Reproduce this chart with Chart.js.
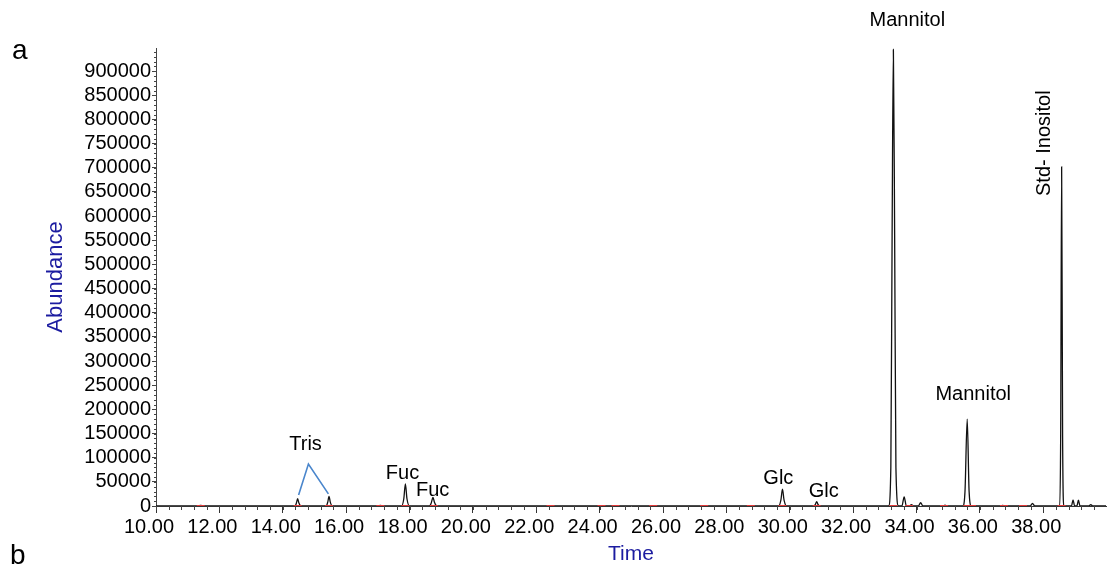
<!DOCTYPE html>
<html>
<head>
<meta charset="utf-8">
<script src="https://cdn.jsdelivr.net/npm/chart.js@4.4.1/dist/chart.umd.min.js"></script>
<style>
  html, body { margin: 0; padding: 0; background: #fff; }
</style>
</head>
<body>
<canvas id="tic" width="1112" height="570"></canvas>
<script>
// total ion chromatogram: retention time (min) vs abundance
const traceTime = [
  10.00, 11.32, 11.41, 11.50,
  14.38, 14.43, 14.47, 14.51, 14.57,
  15.37, 15.42, 15.46, 15.50, 15.56,
  17.02, 17.08, 17.14,
  17.75, 17.82, 17.87, 17.92, 18.00,
  18.63, 18.69, 18.74, 18.79, 18.86,
  29.65, 29.72, 29.77, 29.82, 29.90,
  30.76, 30.81, 30.85, 30.89, 30.95,
  33.12, 33.19, 33.23, 33.27, 33.31, 33.35, 33.43,
  33.54, 33.61, 33.68,
  33.78, 33.84, 33.90,
  34.06, 34.13, 34.20,
  34.84, 34.90, 34.96,
  35.46, 35.53, 35.60, 35.66, 35.73,
  36.67, 36.72, 36.77,
  37.59, 37.66, 37.73,
  38.52, 38.55, 38.58, 38.61, 38.65,
  38.89, 38.94, 38.99,
  39.06, 39.11, 39.16,
  39.44, 39.50, 39.56,
  39.98
];
const traceAbundance = [
  0, 0, 1200, 0,
  0, 6000, 15000, 6000, 0,
  0, 8000, 20000, 8000, 0,
  0, 1500, 0,
  0, 15000, 46000, 15000, 0,
  0, 7000, 18000, 7000, 0,
  0, 12000, 35000, 12000, 0,
  0, 3500, 9000, 3500, 0,
  0, 80000, 560000, 945000, 560000, 80000, 0,
  0, 19000, 0,
  0, 3000, 0,
  0, 7000, 0,
  0, 2000, 0,
  0, 30000, 180000, 30000, 0,
  0, 1500, 0,
  0, 5500, 0,
  0, 150000, 702000, 150000, 0,
  0, 12500, 0,
  0, 12000, 0,
  0, 3000, 0,
  0
];
// integration start/stop markers on the baseline
const integrationMarks = [
  11.41, 14.47, 15.46, 17.08, 17.87, 18.77, 22.45, 24.06, 24.50, 25.69,
  27.30, 28.77, 29.77, 30.85, 33.27, 33.77, 34.87, 35.60, 35.75, 36.76,
  37.36, 38.58
];
const yTickValues = [
  0, 50000, 100000, 150000, 200000, 250000, 300000, 350000, 400000, 450000,
  500000, 550000, 600000, 650000, 700000, 750000, 800000, 850000, 900000
];

const X_MIN = 10, X_MAX = 39.98;
const Y_MAX = 948000;
const FONT = '"Liberation Sans", Arial, Helvetica, sans-serif';
const TITLE_BLUE = '#1c1ca0';

// peak names, anchored in data coordinates
const peakNotes = [
  { text: 'Tris', t: 14.72, v: 127000 },
  { text: 'Fuc', t: 17.78, v: 66500 },
  { text: 'Fuc', t: 18.73, v: 31600 },
  { text: 'Glc', t: 29.64, v: 56000 },
  { text: 'Glc', t: 31.07, v: 31000 },
  { text: 'Mannitol', t: 33.71, v: 1005000 },
  { text: 'Mannitol', t: 35.79, v: 231000 },
  { text: 'Std- Inositol', t: 38.04, v: 751000, vertical: true }
];
const trisBracket = [[14.50, 23000], [14.81, 87000], [15.44, 25000]];

const overlay = {
  id: 'overlay',
  afterDraw(chart) {
    const { ctx, chartArea } = chart;
    const x = chart.scales.x, y = chart.scales.y;
    ctx.save();

    // minor ticks
    ctx.strokeStyle = '#444';
    ctx.lineWidth = 1;
    ctx.beginPath();
    for (let k = 0; X_MIN + k * 0.4 <= X_MAX; k++) {
      const px = Math.round(x.getPixelForValue(X_MIN + k * 0.4)) + 0.5;
      ctx.moveTo(px, chartArea.bottom);
      ctx.lineTo(px, chartArea.bottom + 4);
    }
    for (let k = 0; k * 10000 <= Y_MAX; k++) {
      const py = Math.round(y.getPixelForValue(k * 10000)) + 0.5;
      ctx.moveTo(chartArea.left, py);
      ctx.lineTo(chartArea.left - 2, py);
    }
    ctx.stroke();

    // bracket joining the two Tris peaks
    ctx.strokeStyle = '#4a86cc';
    ctx.lineWidth = 1.6;
    ctx.beginPath();
    trisBracket.forEach(([t, v], i) => {
      const px = x.getPixelForValue(t), py = y.getPixelForValue(v);
      if (i === 0) ctx.moveTo(px, py); else ctx.lineTo(px, py);
    });
    ctx.stroke();

    ctx.fillStyle = '#000';
    ctx.font = '20px ' + FONT;
    ctx.textAlign = 'center';
    ctx.textBaseline = 'middle';
    peakNotes.forEach(n => {
      const px = x.getPixelForValue(n.t), py = y.getPixelForValue(n.v);
      if (n.vertical) {
        ctx.save();
        ctx.translate(px, py);
        ctx.rotate(-Math.PI / 2);
        ctx.fillText(n.text, 0, 0);
        ctx.restore();
      } else {
        ctx.fillText(n.text, px, py);
      }
    });

    // panel letters
    ctx.font = '28px ' + FONT;
    ctx.textAlign = 'left';
    ctx.fillText('a', 12, 51);
    ctx.fillText('b', 10, 556);
    ctx.restore();
  }
};

new Chart(document.getElementById('tic'), {
  type: 'line',
  data: {
    datasets: [
      {
        label: 'TIC',
        data: traceTime.map((t, i) => ({ x: t, y: traceAbundance[i] })),
        borderColor: '#111',
        borderWidth: 1.3,
        pointRadius: 0,
        cubicInterpolationMode: 'monotone',
        order: 2
      },
      {
        label: 'marks',
        type: 'scatter',
        data: integrationMarks.map(t => ({ x: t, y: 0 })),
        pointStyle: 'line',
        pointRadius: 4,
        borderColor: '#e23a3a',
        borderWidth: 2,
        backgroundColor: '#e23a3a',
        order: 1
      }
    ]
  },
  options: {
    responsive: false,
    devicePixelRatio: 1,
    animation: false,
    layout: { padding: { top: 48, right: 0, bottom: 0, left: 0 } },
    plugins: { legend: { display: false }, tooltip: { enabled: false } },
    scales: {
      x: {
        type: 'linear',
        min: X_MIN,
        max: X_MAX,
        afterFit: s => { s.height = 64; s.paddingLeft = 0; s.paddingRight = 0; },
        border: { color: '#333', width: 1 },
        grid: { drawOnChartArea: false, tickLength: 7, tickColor: '#333' },
        ticks: {
          stepSize: 2,
          includeBounds: false,
          autoSkip: false,
          maxRotation: 0,
          padding: 2,
          labelOffset: -7,
          color: '#000',
          font: { family: FONT, size: 20 },
          callback: v => v.toFixed(2)
        },
        title: {
          display: true,
          text: 'Time',
          color: TITLE_BLUE,
          font: { family: FONT, size: 21 },
          padding: { top: 0, bottom: 3 }
        }
      },
      y: {
        min: 0,
        max: Y_MAX,
        afterFit: s => { s.width = 156; },
        afterBuildTicks: s => { s.ticks = yTickValues.map(v => ({ value: v })); },
        border: { color: '#444', width: 1 },
        grid: { drawOnChartArea: false, tickLength: 4, tickColor: '#444' },
        ticks: {
          autoSkip: false,
          padding: 1,
          color: '#000',
          font: { family: FONT, size: 20 },
          callback: v => String(v)
        },
        title: {
          display: true,
          text: 'Abundance',
          color: TITLE_BLUE,
          font: { family: FONT, size: 22 },
          padding: { top: 43, bottom: 0 }
        }
      }
    }
  },
  plugins: [overlay]
});
</script>
</body>
</html>
